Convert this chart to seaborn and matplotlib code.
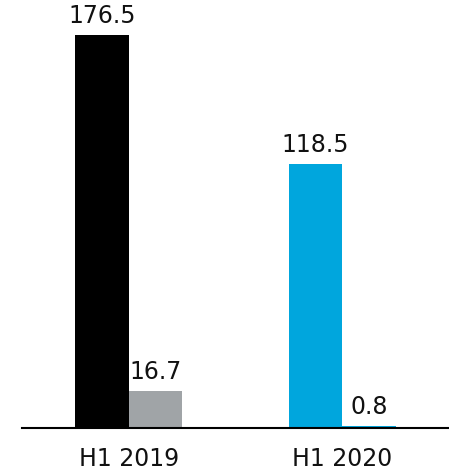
import matplotlib
matplotlib.use("Agg")
import matplotlib.pyplot as plt
import seaborn as sns
import pandas as pd

periods = ["H1 2019", "H1 2020"]
series = ["A", "B"]
values_a = [176.5, 118.5]
values_b = [16.7, 0.8]
labels_a = ["176.5", "118.5"]
labels_b = ["16.7", "0.8"]
colors_a = ["#000000", "#00A6DD"]
colors_b = ["#A0A4A7", "#00A6DD"]

df = pd.DataFrame({
    "period": periods + periods,
    "series": ["A"] * 2 + ["B"] * 2,
    "value": values_a + values_b,
})

sns.set_theme(style="white")
plt.rcParams["font.family"] = ["DejaVu Sans"]

fig = plt.figure(figsize=(4.49, 4.74), dpi=100)
ax = fig.add_axes([22 / 449, 46 / 474, 427 / 449, 428 / 474])

sns.barplot(data=df, x="period", y="value", hue="series", hue_order=series,
            order=periods, width=0.5, gap=0, saturation=1, legend=False, ax=ax,
            errorbar=None)

bars = list(ax.patches)[:4]
cols = colors_a + colors_b
labs = labels_a + labels_b
for p, c, t in zip(bars, cols, labs):
    p.set_facecolor(c)
    p.set_edgecolor("none")
    ax.annotate(t, (p.get_x() + p.get_width() / 2, p.get_height()),
                xytext=(0, 5), textcoords="offset points",
                ha="center", va="bottom", fontsize=17, color="#111111",
                annotation_clip=False)

ax.set_xlim(-0.5, 1.5)
ax.set_ylim(0, 192.2)
ax.set_xlabel("")
ax.set_ylabel("")
ax.set_yticks([])
for s in ["top", "left", "right"]:
    ax.spines[s].set_visible(False)
ax.spines["bottom"].set_color("black")
ax.spines["bottom"].set_linewidth(1.5)
ax.tick_params(axis="x", length=0, pad=14, labelsize=17, colors="#111111")

fig.savefig("out.png", dpi=100)
